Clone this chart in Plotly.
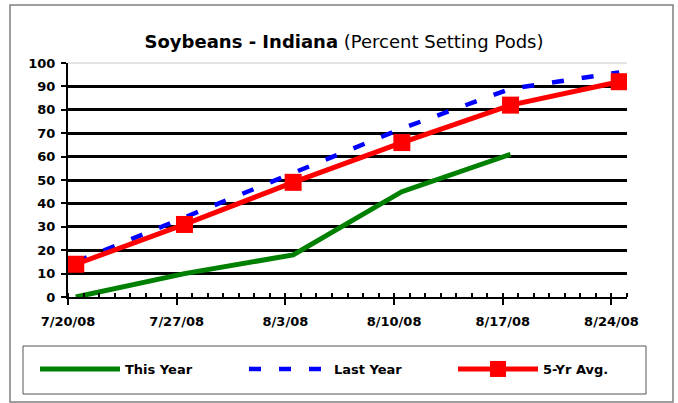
import plotly.graph_objects as go

dates = ["2008-07-20", "2008-07-27", "2008-08-03", "2008-08-10", "2008-08-17", "2008-08-24"]
this_year = [0, 10, 18, 45, 61]
last_year = [15, 34, 53, 72, 89, 96]
five_yr_avg = [14, 31, 49, 66, 82, 92]
tick_labels = ["7/20/08", "7/27/08", "8/3/08", "8/10/08", "8/17/08", "8/24/08"]

W, H = 678, 403
L, R, T, B = 68, 51, 63, 106
pw, ph = W - L - R, H - T - B

def px(x):
    return (x - L) / pw

def py(y):
    return (H - B - y) / ph

FONT = "DejaVu Sans, Liberation Sans, Arial, sans-serif"
DAY = 86400000

fig = go.Figure()
fig.add_trace(go.Scatter(x=dates[:len(this_year)], y=this_year, name="This Year", mode="lines",
                         line=dict(color="#008000", width=5),
                         xperiod=DAY, xperiodalignment="middle"))
fig.add_trace(go.Scatter(x=dates, y=last_year, name="Last Year", mode="lines",
                         line=dict(color="#0000FF", width=4.5, dash="12px,18px"),
                         xperiod=DAY, xperiodalignment="middle"))
fig.add_trace(go.Scatter(x=dates, y=five_yr_avg, name="5-Yr Avg.", mode="lines+markers",
                         line=dict(color="#FF0000", width=5),
                         marker=dict(symbol="square", size=17, color="#FF0000"),
                         xperiod=DAY, xperiodalignment="middle"))

fig.update_layout(
    width=W, height=H,
    margin=dict(l=L, r=R, t=T, b=B),
    paper_bgcolor="white", plot_bgcolor="white",
    font=dict(family=FONT, color="black", size=13),
    title=dict(text="<b>Soybeans - Indiana</b> (Percent Setting Pods)",
               x=px(344), xanchor="center", xref="paper",
               y=1 - 42 / H, yanchor="middle",
               font=dict(size=18, family=FONT, color="black")),
    showlegend=True,
    legend=dict(orientation="h", x=px(35), y=py(369), xanchor="left", yanchor="middle",
                font=dict(size=13, family=FONT, color="black", weight="bold"),
                bgcolor="rgba(0,0,0,0)", borderwidth=0,
                entrywidth=114, itemwidth=80),
    shapes=[
        dict(type="rect", xref="paper", yref="paper", x0=px(10), x1=px(673), y0=py(402), y1=py(5),
             line=dict(color="#808080", width=1.5), layer="below"),
        dict(type="rect", xref="paper", yref="paper", x0=px(23), x1=px(646), y0=py(394), y1=py(346),
             line=dict(color="#555555", width=1), layer="below"),
        dict(type="line", xref="paper", yref="paper", x0=0, x1=1, y0=1, y1=1,
             line=dict(color="#C8C8C8", width=1), layer="below"),
    ],
)

fig.update_xaxes(
    type="date", range=["2008-07-20", "2008-08-25"],
    tickvals=dates, ticktext=tick_labels,
    ticks="outside", ticklen=6, tickwidth=1.5, tickcolor="black",
    ticklabelstandoff=5,
    showline=True, linecolor="black", linewidth=2,
    showgrid=False, zeroline=False,
    tickfont=dict(size=13, family=FONT, color="black", weight="bold"),
    minor=dict(dtick=DAY, ticks="inside", ticklen=4, tickwidth=1.5, tickcolor="black", showgrid=False),
)
fig.update_yaxes(
    range=[0, 100], dtick=10, tick0=0,
    ticks="outside", ticklen=5, tickwidth=1.5, tickcolor="black",
    ticklabelstandoff=3,
    showline=True, linecolor="black", linewidth=2,
    showgrid=False, zeroline=False,
    tickfont=dict(size=13, family=FONT, color="black", weight="bold"),
    minor=dict(tickvals=[10, 20, 30, 40, 50, 60, 70, 80, 90], showgrid=True,
               gridcolor="black", gridwidth=2.5, ticks=""),
)

fig.write_html("out.html", config={"displayModeBar": False},
               post_script="document.body.style.margin='0';")
